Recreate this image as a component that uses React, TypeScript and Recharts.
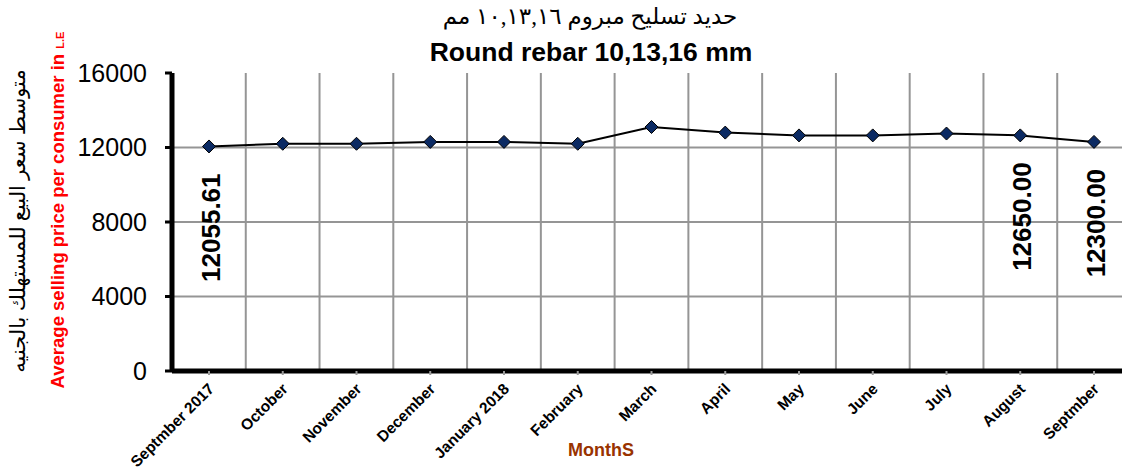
import {
  LineChart,
  Line,
  XAxis,
  YAxis,
  CartesianGrid,
  LabelList,
} from "recharts";

const months = [
  "Septmber 2017",
  "October",
  "November",
  "December",
  "January 2018",
  "February",
  "March",
  "April",
  "May",
  "June",
  "July",
  "August",
  "Septmber",
];
const prices = [
  12055.61, 12200, 12200, 12300, 12300, 12200, 13100, 12800, 12650, 12650,
  12750, 12650, 12300,
];
const labelled = [0, 11, 12];
const yTicks = [0, 4000, 8000, 12000, 16000];
const gridValues = [4000, 8000, 12000];

const data = months.map((month, i) => ({ month, price: prices[i] }));

const ARIAL = "'Liberation Sans', Arial, sans-serif";
const ARABIC = "'Times New Roman', 'DejaVu Sans', serif";

function Diamond(props: any) {
  const { cx, cy } = props;
  if (cx == null || cy == null) return null;
  const r = 6.5;
  return (
    <polygon
      points={`${cx},${cy - r} ${cx + r},${cy} ${cx},${cy + r} ${cx - r},${cy}`}
      fill="#0b2a63"
      stroke="#000"
      strokeWidth={1}
    />
  );
}

function MonthTick(props: any) {
  const { x, y, payload } = props;
  return (
    <text
      transform={`translate(${x + 6},${y + 13}) rotate(-45)`}
      textAnchor="end"
      fontFamily={ARIAL}
      fontWeight="bold"
      fontSize={15.5}
      fill="#000"
    >
      {payload.value}
    </text>
  );
}

function ValueLabel(props: any) {
  const { x, y, value, index } = props;
  if (!labelled.includes(index)) return null;
  const ax = x + 2;
  const ay = y + 27;
  return (
    <text
      transform={`translate(${ax},${ay}) rotate(-90)`}
      textAnchor="end"
      dy="0.35em"
      fontFamily={ARIAL}
      fontWeight="bold"
      fontSize={26}
      fill="#000"
    >
      {Number(value).toFixed(2)}
    </text>
  );
}

export default function App() {
  return (
    <div
      style={{
        position: "absolute",
        left: 0,
        top: 0,
        width: 1122,
        height: 472,
        overflow: "hidden",
        background: "#fff",
      }}
    >
      <div
        style={{
          position: "absolute",
          left: 0,
          width: 1180,
          top: 3,
          textAlign: "center",
          fontFamily: ARABIC,
          fontSize: 23,
          direction: "rtl",
        }}
      >
        حديد تسليح مبروم ١٠,١٣,١٦ مم
      </div>
      <div
        style={{
          position: "absolute",
          left: 0,
          width: 1182,
          top: 37,
          textAlign: "center",
          fontFamily: ARIAL,
          fontWeight: "bold",
          fontSize: 26.5,
        }}
      >
        Round rebar 10,13,16 mm
      </div>
      <div
        style={{
          position: "absolute",
          left: 18,
          top: 221,
          transform: "translate(-50%, -50%) rotate(-90deg)",
          whiteSpace: "nowrap",
          fontFamily: ARABIC,
          fontSize: 21,
          direction: "rtl",
        }}
      >
        متوسط سعر البيع للمستهلك بالجنيه
      </div>
      <div
        style={{
          position: "absolute",
          left: 58,
          top: 210,
          transform: "translate(-50%, -50%) rotate(-90deg)",
          whiteSpace: "nowrap",
          fontFamily: ARIAL,
          fontWeight: "bold",
          fontSize: 18.5,
          color: "#ff0000",
        }}
      >
        Average selling price per consumer in <span style={{ fontSize: 11 }}>L.E</span>
      </div>
      <div
        style={{
          position: "absolute",
          left: 601,
          top: 450,
          transform: "translate(-50%, -50%)",
          fontFamily: ARIAL,
          fontWeight: "bold",
          fontSize: 18,
          color: "#993300",
        }}
      >
        MonthS
      </div>
      <div style={{ position: "absolute", left: 0, top: 0 }}>
        <LineChart
          width={1140}
          height={472}
          data={data}
          margin={{ top: 73, right: 9, left: 0, bottom: 0 }}
        >
          <CartesianGrid
            stroke="#959595"
            strokeWidth={2}
            horizontalCoordinatesGenerator={({ offset }: any) =>
              gridValues.map(
                (v) => offset.top + offset.height * (1 - v / 16000)
              )
            }
            verticalCoordinatesGenerator={({ offset }: any) =>
              months.map(
                (_, i) => offset.left + ((i + 1) * offset.width) / months.length
              )
            }
          />
          <XAxis
            dataKey="month"
            interval={0}
            height={101}
            padding={{ left: 37, right: 37 }}
            axisLine={{ stroke: "#000", strokeWidth: 5 }}
            tickLine={{ stroke: "#999", strokeWidth: 2 }}
            tickSize={4}
            tickMargin={2}
            tick={<MonthTick />}
          />
          <YAxis
            width={172}
            domain={[0, 16000]}
            ticks={yTicks}
            interval={0}
            axisLine={{ stroke: "#000", strokeWidth: 5 }}
            tickLine={{ stroke: "#000", strokeWidth: 3 }}
            tickSize={7}
            tickMargin={18}
            tick={{ fontFamily: ARIAL, fontSize: 25, fill: "#000" }}
          />
          <Line
            type="linear"
            dataKey="price"
            stroke="#000"
            strokeWidth={2}
            dot={<Diamond />}
            activeDot={false}
            isAnimationActive={false}
          >
            <LabelList dataKey="price" content={<ValueLabel />} />
          </Line>
        </LineChart>
      </div>
    </div>
  );
}
